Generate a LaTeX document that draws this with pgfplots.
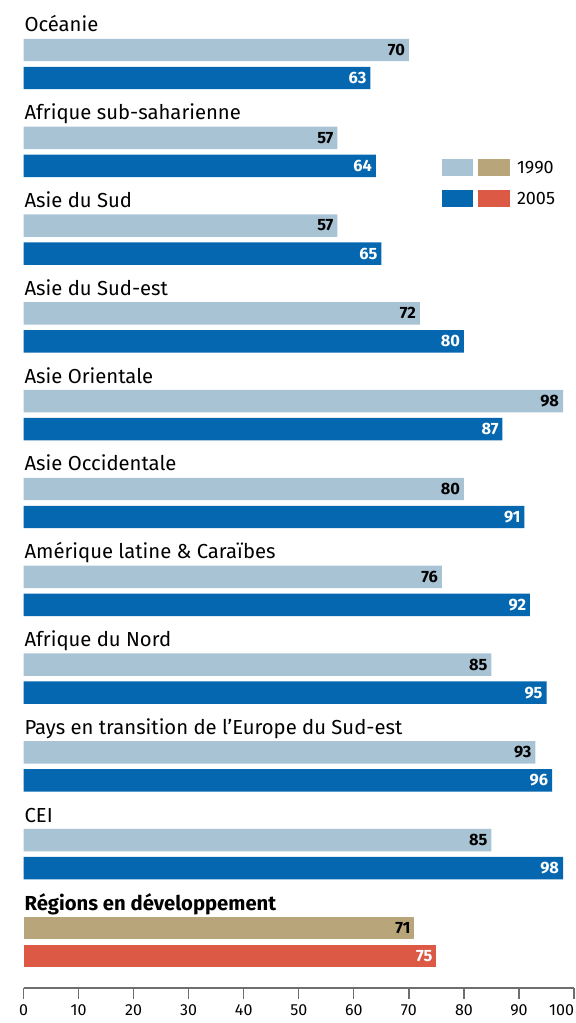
\documentclass[border=0pt]{standalone}
\usepackage{pgfplots}
\pgfplotsset{compat=1.18}
\usepackage{fontspec}
\setmainfont{Fira Sans}
\definecolor{lb}{HTML}{A7C3D4}
\definecolor{db}{HTML}{0567B0}
\definecolor{tan}{HTML}{B9A57A}
\definecolor{rd}{HTML}{DC5A45}
\definecolor{tickgray}{HTML}{6E6E6E}
\tikzset{glab/.style={anchor=base west, inner sep=0pt, xshift=0.6pt, font=\fontsize{15.2}{17}\selectfont}}
\begin{document}
\begin{tikzpicture}
\begin{axis}[
  scale only axis, width=412.9pt, height=741pt,
  xmin=0, xmax=100, ymin=-10.683, ymax=0.5695,
  clip=false,
  axis x line=bottom, axis y line=none,
  xtick={0,10,...,100}, xtick align=outside, major tick length=8.25pt,
  xticklabels={0,10,20,30,40,50,60,70,80,90,\makebox[0pt][r]{100}},
  axis line style={-, draw=tickgray, line width=1.1pt},
  x tick style={draw=tickgray, line width=1pt},
  xticklabel style={font=\fontsize{12}{14}\selectfont, text=black, yshift=-0.5pt},
  /pgf/number format/assume math mode=true,
  xbar, bar width=0.256,
  point meta=x,
  nodes near coords,
  nodes near coords style={anchor=east, font=\bfseries\fontsize{12.3}{14}\selectfont, inner sep=2.8pt},
]
\addplot[fill=lb, draw=none, bar shift=0pt, every node near coord/.append style={text=black}]
  coordinates {(70,0) (57,-1) (57,-2) (72,-3) (98,-4) (80,-5) (76,-6) (85,-7) (93,-8) (85,-9)};
\addplot[fill=db, draw=none, bar shift=0pt, every node near coord/.append style={text=white}]
  coordinates {(63,-0.319) (64,-1.319) (65,-2.319) (80,-3.319) (87,-4.319) (91,-5.319) (92,-6.319) (95,-7.319) (96,-8.319) (98,-9.319)};
\addplot[fill=tan, draw=none, bar shift=0pt, every node near coord/.append style={text=black}]
  coordinates {(71,-10)};
\addplot[fill=rd, draw=none, bar shift=0pt, every node near coord/.append style={text=white}]
  coordinates {(75,-10.319)};
\node[glab] at (axis cs:0,0.205) {Océanie};
\node[glab] at (axis cs:0,-0.795) {Afrique sub-saharienne};
\node[glab] at (axis cs:0,-1.795) {Asie du Sud};
\node[glab] at (axis cs:0,-2.795) {Asie du Sud-est};
\node[glab] at (axis cs:0,-3.795) {Asie Orientale};
\node[glab] at (axis cs:0,-4.795) {Asie Occidentale};
\node[glab] at (axis cs:0,-5.795) {Amérique latine \& Caraïbes};
\node[glab] at (axis cs:0,-6.795) {Afrique du Nord};
\node[glab] at (axis cs:0,-7.795) {Pays en transition de l'Europe du Sud-est};
\node[glab] at (axis cs:0,-8.795) {CEI};
\node[glab, font=\bfseries\fontsize{15.2}{17}\selectfont] at (axis cs:0,-9.795) {Régions en développement};
% legend
\fill[lb] (axis cs:76.0,-1.241) rectangle (axis cs:81.6,-1.435);
\fill[tan] (axis cs:82.5,-1.241) rectangle (axis cs:88.3,-1.435);
\fill[db] (axis cs:76.0,-1.595) rectangle (axis cs:81.6,-1.788);
\fill[rd] (axis cs:82.5,-1.595) rectangle (axis cs:88.3,-1.788);
\node[anchor=west, inner sep=0pt, font=\fontsize{13.5}{15}\selectfont] at (axis cs:89.6,-1.338) {1990};
\node[anchor=west, inner sep=0pt, font=\fontsize{13.5}{15}\selectfont] at (axis cs:89.6,-1.692) {2005};
\coordinate (bbA) at (axis cs:-4.27,0.5695);
\coordinate (bbB) at (axis cs:100.36,-11.082);
\end{axis}
\pgfresetboundingbox
\path[use as bounding box] (bbA) rectangle (bbB);
\end{tikzpicture}
\end{document}
